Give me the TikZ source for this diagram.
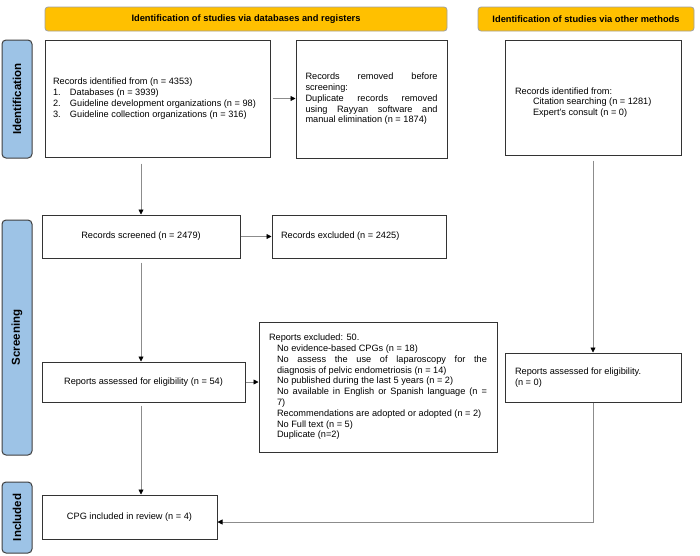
\documentclass[tikz,border=0pt]{standalone}
\usepackage{fontspec}
\setmainfont{Liberation Sans}
\usetikzlibrary{arrows.meta}
\definecolor{hdrfill}{HTML}{FFC000}
\definecolor{hdrline}{HTML}{A0A0A0}
\definecolor{sidefill}{HTML}{9DC3E6}
\definecolor{sideline}{HTML}{404040}
\definecolor{boxline}{HTML}{333333}
\definecolor{arrline}{HTML}{8C8C8C}
\newcommand{\bodyfont}{\fontsize{9.2}{10.8}\selectfont}
\begin{document}
\begin{tikzpicture}[x=1pt,y=-1pt,
  box/.style={draw=boxline, line width=1pt, fill=white, inner sep=0pt, font=\bodyfont},
  hdrbox/.style={draw=hdrline, line width=0.8pt, fill=hdrfill, rounded corners=3pt, inner sep=0pt, minimum height=24pt, font=\fontsize{9.3}{11}\selectfont\bfseries},
  sidebox/.style={draw=sideline, line width=1pt, fill=sidefill, rounded corners=4pt, inner sep=0pt, minimum width=30pt, font=\fontsize{11.5}{13}\selectfont\bfseries},
  arr/.style={draw=arrline, line width=0.8pt, -{Triangle[length=5pt,width=5pt,color=black]}}]
\useasboundingbox[fill=white] (0,0) rectangle (700,555);

% headers
\node[hdrbox, minimum width=402pt] (hdrL) at (246,19) {Identification of studies via databases and registers};
\node[hdrbox, minimum width=216pt] (hdrR) at (586,19) {Identification of studies via other methods};

% side labels
\node[sidebox, minimum height=118pt] (sideI) at (17,99) {\rotatebox{90}{Identification}};
\node[sidebox, minimum height=235pt] (sideS) at (17,337.5) {\rotatebox{90}{Screening}};
\node[sidebox, minimum height=71pt] (sideIn) at (17,517.5) {\rotatebox{90}{Included}};

% boxes
\node[box, minimum width=225pt, minimum height=117pt] (rid) at (157.5,98.5)
  {\parbox{209pt}{\raggedright Records identified from (n = 4353)\\
   \makebox[17pt][l]{1.}Databases (n = 3939)\\
   \makebox[17pt][l]{2.}Guideline development organizations (n = 98)\\
   \makebox[17pt][l]{3.}Guideline collection organizations (n = 316)}};
\node[box, minimum width=151pt, minimum height=118pt] (rrem) at (371.5,99)
  {\parbox{132pt}{Records removed before\linebreak screening:\par
   Duplicate records removed\linebreak using Rayyan software and\linebreak manual elimination (n = 1874)}};
\node[box, minimum width=176pt, minimum height=115pt] (other) at (593,97.5)
  {\parbox{156pt}{\raggedright\vspace*{10pt}Records identified from:\\
   \hspace*{18pt}Citation searching (n = 1281)\\
   \hspace*{18pt}Expert’s consult (n = 0)}};
\node[box, minimum width=198pt, minimum height=43pt] (screened) at (141,236.5)
  {Records screened (n = 2479)};
\node[box, minimum width=174pt, minimum height=43pt] (excluded) at (359,236.5)
  {\parbox{156pt}{Records excluded (n = 2425)}};
\node[box, minimum width=238pt, minimum height=130pt] (repexc) at (378,387)
  {\parbox{218pt}{Reports excluded: 50.\par\leftskip=8pt
   No evidence-based CPGs (n = 18)\par
   No assess the use of laparoscopy for the\linebreak diagnosis of pelvic endometriosis (n = 14)\par
   No published during the last 5 years (n = 2)\par
   No available in English or Spanish language (n =\linebreak 7)\par
   Recommendations are adopted or adopted (n = 2)\par
   No Full text (n = 5)\par
   Duplicate (n=2)}};
\node[box, minimum width=203pt, minimum height=40pt] (assessed) at (143.5,382)
  {Reports assessed for eligibility (n = 54)};
\node[box, minimum width=176pt, minimum height=49pt] (otherrep) at (593,377.5)
  {\parbox{156pt}{\raggedright Reports assessed for eligibility.\\ (n = 0)}};
\node[box, minimum width=175pt, minimum height=44pt] (included) at (129.5,517)
  {CPG included in review (n = 4)};

% connectors
\draw[arr, shorten <=2pt] (rid.east) -- (rid.east -| rrem.west);
\draw[arr, shorten <=6pt] (rid.south -| screened.north) -- (screened.north);
\draw[arr] (screened.east) -- (excluded.west);
\draw[arr, shorten <=4pt] (screened.south) -- (screened.south |- assessed.north);
\draw[arr] (assessed.east) -- (assessed.east -| repexc.west);
\draw[arr, shorten <=3pt] (assessed.south -| screened.south) -- (screened.south |- included.north);
\draw[arr, shorten <=5pt] (other.south) -- (otherrep.north);
\draw[arr] (otherrep.south) |- ([yshift=-5pt]included.east);
\end{tikzpicture}
\end{document}
